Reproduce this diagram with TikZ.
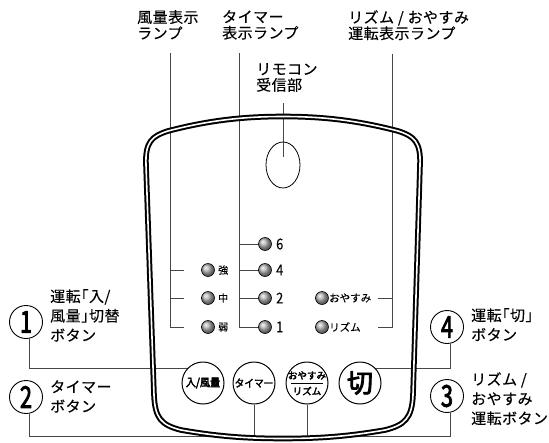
\documentclass[tikz,border=0pt]{standalone}
\usepackage{fontspec}
\setmainfont{Noto Sans CJK JP}[AutoFakeBold=3.2]
\newfontfamily\jpls{Noto Sans CJK JP}[LetterSpace=3, FakeBold=0.25]
\newfontfamily\jpsm{Noto Sans CJK JP}[FakeBold=0.2]
\usetikzlibrary{backgrounds,calc,shapes.geometric}
\begin{document}
\begin{tikzpicture}[x=1pt,y=-1pt,
  lbl/.style={align=left, inner sep=0pt, anchor=north west, font=\jpls\fontsize{15}{16}\selectfont},
  call/.style={align=left, inner sep=0pt, anchor=north west, font=\jpls\fontsize{15}{19.5}\selectfont},
  led/.style={circle, draw=black, line width=0.6pt, minimum size=13pt, inner sep=0pt, shading=ball, ball color=gray!60},
  small/.style={inner sep=0pt, anchor=west, font=\jpsm\fontsize{10}{10}\selectfont},
  digit/.style={inner sep=0pt, anchor=west, font=\jpsm\fontsize{15}{15}\selectfont},
  lead/.style={draw=gray!55!black, line width=0.8pt},
  btn/.style={circle, draw=black, line width=1pt, minimum size=42pt, inner sep=0pt, fill=white},
  num/.style={circle, draw=black, line width=0.9pt, minimum size=33pt, inner sep=0pt, font=\bfseries\fontsize{30}{30}\selectfont},
  body/.style={draw=black, line width=2pt, double=white, double distance=1.6pt}
]
\useasboundingbox (0,0) rectangle (549,442);

% remote body
\draw[body] (146,165) .. controls (145,142) and (152,136) .. (168,131)
  .. controls (210,120) and (245,116.5) .. (283,116.5)
  .. controls (321,116.5) and (356,120) .. (398,131)
  .. controls (414,136) and (421,142) .. (420,165)
  -- (413,395)
  .. controls (412,418) and (405,425) .. (385,430)
  .. controls (345,437) and (315,438.5) .. (283,438.5)
  .. controls (251,438.5) and (221,437) .. (181,430)
  .. controls (161,425) and (155,418) .. (154,395) -- cycle;

% receiver
\node[ellipse, draw=black, line width=0.8pt, minimum width=34pt, minimum height=46pt, inner sep=0pt] (recv) at (283,165) {};

% top labels
\node[lbl] (lF) at (137,10) {風量表示\\ランプ};
\node[lbl] (lT) at (222,10) {タイマー\\表示ランプ};
\node[lbl] (lR) at (348,10) {リズム / おやすみ\\運転表示ランプ};
\node[lbl] (lC) at (256,63) {リモコン\\受信部};

% LEDs
\node[led] (fS) at (208,270) {};
\node[led] (fM) at (208,298) {};
\node[led] (fW) at (208,327) {};
\node[small] (tfS) at (218,270) {強};
\node[small] (tfM) at (218,298) {中};
\node[small] (tfW) at (218,327) {弱};

\node[led] (t6) at (265,244) {};
\node[led] (t4) at (265,270) {};
\node[led] (t2) at (265,298) {};
\node[led] (t1) at (265,327) {};
\node[digit] (tt6) at (276,244) {\scalebox{0.85}[1]{6}};
\node[digit] (tt4) at (276,270) {\scalebox{0.85}[1]{4}};
\node[digit] (tt2) at (276,298) {\scalebox{0.85}[1]{2}};
\node[digit] (tt1) at (276,327) {\scalebox{0.85}[1]{1}};

\node[led] (oy) at (322,298) {};
\node[led] (rz) at (322,327) {};
\node[small, font=\jpsm\fontsize{10.5}{10.5}\selectfont] (toy) at (329,298) {おやすみ};
\node[small, font=\jpsm\fontsize{10.5}{10.5}\selectfont] (trz) at (329,327) {リズム};

% buttons
\node[btn, font=\bfseries\fontsize{11}{11}\selectfont] (bIn) at (203,383) {\scalebox{0.92}[1]{入/風量}};
\node[btn, font=\bfseries\fontsize{10.5}{10.5}\selectfont] (bTm) at (254,383) {\scalebox{0.92}[1]{タイマー}};
\node[btn] (bOy) at (307,383) {};
\node[inner sep=0pt, font=\bfseries\fontsize{9.5}{9.5}\selectfont] (bOyT) at ($(bOy)+(0,-7.5)$) {おやすみ};
\node[inner sep=0pt, font=\bfseries\fontsize{9.5}{9.5}\selectfont] (bOyB) at ($(bOy)+(0,8)$) {リズム};
\draw[line width=0.9pt] ($(bOy)+(-16,0.5)$) -- ($(bOy)+(16,0.5)$);
\node[btn, font=\bfseries\fontsize{26}{26}\selectfont] (bKi) at (360,383) {切};

% callouts
\node[num] (n1) at (26,322) {\scalebox{0.72}[1]{1}};
\node[num] (n2) at (26,397) {\scalebox{0.72}[1]{2}};
\node[num] (n4) at (447,327) {\scalebox{0.72}[1]{4}};
\node[num] (n3) at (447,396) {\scalebox{0.72}[1]{3}};
\node[call] (c1) at (50,289) {運転｢入/\\風量｣切替\\ボタン};
\node[call] (c2) at (50,380) {タイマー\\ボタン};
\node[call] (c4) at (471,308) {運転｢切｣\\ボタン};
\node[call] (c3) at (471,372) {リズム /\\おやすみ\\運転ボタン};

\coordinate (kU) at (0,368);
\coordinate (kB) at (0,436);
\coordinate (fTop) at (170,53);
\coordinate (tTop) at (239,53);
\coordinate (rTop) at (392,54);
\coordinate (cTop) at (283,103);

\begin{scope}[on background layer]
  % fan bracket
  \draw[lead] (fTop) -- (fTop |- fW) -- ++(14,0);
  \draw[lead] (fTop |- fS) -- ++(14,0);
  \draw[lead] (fTop |- fM) -- ++(14,0);
  % timer bracket
  \draw[lead] (tTop) -- (tTop |- t1) -- (t1.west);
  \draw[lead] (tTop |- t6) -- (t6.west);
  \draw[lead] (tTop |- t4) -- (t4.west);
  \draw[lead] (tTop |- t2) -- (t2.west);
  % rhythm bracket
  \draw[lead] (rTop) -- (rTop |- rz) -- ++(-14,0);
  \draw[lead] (rTop |- oy) -- ++(-14,0);
  % receiver
  \draw[lead] (cTop) -- ($(recv.center)+(0,-8)$);
  % callout leaders
  \draw[lead] (n1.-80) -- (n1.-80 |- kU) -- (kU -| bIn.center);
  \draw[lead] (n4.-80) -- (n4.-80 |- kU) -- (kU -| bKi.center);
  \draw[lead] (n2.-80) -- (n2.-80 |- kB) -| (bTm.south);
  \draw[lead] (n3.-80) -- (n3.-80 |- kB) -| (bOy.south);
\end{scope}
\end{tikzpicture}
\end{document}
